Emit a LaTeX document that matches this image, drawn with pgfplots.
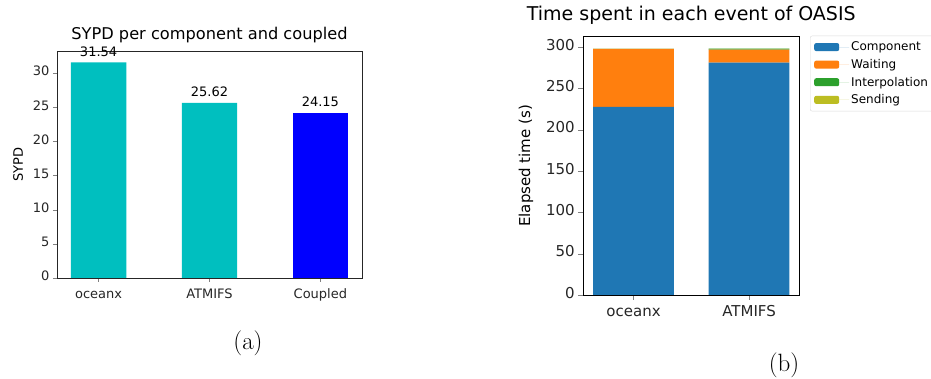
\documentclass[border=0pt]{standalone}
\usepackage{pgfplots}
\pgfplotsset{compat=1.18}
\usepackage{fontspec}
\setmainfont{DejaVu Sans}
\newfontfamily\lmfont{Latin Modern Roman}
\definecolor{cc}{RGB}{0,191,191}
\definecolor{tabblue}{HTML}{1F77B4}
\definecolor{taborange}{HTML}{FF7F0E}
\definecolor{tabgreen}{HTML}{2CA02C}
\definecolor{tabolive}{HTML}{BCBD22}
\definecolor{axgray}{RGB}{38,38,38}
\newcommand{\fs}[1]{\fontsize{#1pt}{#1pt}\selectfont}
\begin{document}
\begin{tikzpicture}
\useasboundingbox (0,0) rectangle (931pt,379pt);
% ---------- (a)
\begin{axis}[
  at={(57pt,101pt)}, anchor=south west,
  width=305pt, height=226.3pt, scale only axis,
  xmin=-0.375, xmax=2.375, ymin=0, ymax=33.117,
  xtick={0,1,2}, xticklabels={oceanx,ATMIFS,Coupled},
  ytick={0,5,10,15,20,25,30},
  /pgf/number format/assume math mode=true,
  tick label style={font=\fs{13}, text=axgray},
  xticklabel style={yshift=-3.5pt},
  typeset ticklabels with strut,
  tick align=outside, tick pos=left,
  major tick length=4pt,
  axis line style={axgray},
  ybar, bar width=0.5, bar shift=0pt,
  title={SYPD per component and coupled},
  title style={font=\fs{16.2}, at={(0.5,1)}, anchor=base, yshift=6.5pt},
  ylabel={SYPD}, ylabel style={font=\fs{13}}, ylabel shift=3pt,
  nodes near coords,
  nodes near coords style={font=\fs{13}, anchor=center, yshift=11pt, /pgf/number format/.cd, fixed, precision=2, fixed zerofill},
]
\addplot[fill=cc, draw=none] coordinates {(0,31.54) (1,25.62)};
\addplot[fill=blue, draw=none] coordinates {(2,24.15)};
\end{axis}
% ---------- (b)
\begin{axis}[
  at={(583.3pt,84pt)}, anchor=south west,
  width=216pt, height=258.3pt, scale only axis,
  xmin=-0.435, xmax=1.435, ymin=0, ymax=312.4,
  xtick={0,1}, xticklabels={oceanx,ATMIFS},
  ytick={0,50,100,150,200,250,300},
  /pgf/number format/assume math mode=true,
  tick label style={font=\fs{15}, text=axgray},
  xticklabel style={yshift=-2pt},
  typeset ticklabels with strut,
  tick align=outside, tick pos=left,
  major tick length=5pt,
  axis line style={black, line width=0.9pt},
  ybar stacked, bar width=0.7,
  title={Time spent in each event of OASIS},
  title style={font=\fs{19}, at={(0.5,1)}, anchor=base, yshift=9.7pt},
  ylabel={Elapsed time (s)}, ylabel style={font=\fs{15}}, ylabel shift=6pt,
  legend style={at={(1,1)}, xshift=10.7pt, yshift=1pt, anchor=north west, font=\fs{12},
    draw=black!15, rounded corners=2pt, row sep=3pt, inner xsep=4pt, inner ysep=4pt},
  legend cell align=left,
  legend image code/.code={\fill[#1] (0pt,-4pt) rectangle (25pt,4pt);\path (0pt,0pt) -- (35pt,0pt);},
]
\addplot[fill=tabblue, draw=none] coordinates {(0,227.5) (1,281.1)};
\addplot[fill=taborange, draw=none] coordinates {(0,70.1) (1,15.7)};
\addplot[fill=tabgreen, draw=none] coordinates {(0,0.05) (1,1.2)};
\addplot[fill=tabolive, draw=none] coordinates {(0,0.02) (1,0.1)};
\legend{Component,Waiting,Interpolation,Sending}
\end{axis}
\node[font=\lmfont\fs{25}] at (248pt,379pt-343pt) {(a)};
\node[font=\lmfont\fs{25}] at (784pt,379pt-365pt) {(b)};
\end{tikzpicture}
\end{document}
